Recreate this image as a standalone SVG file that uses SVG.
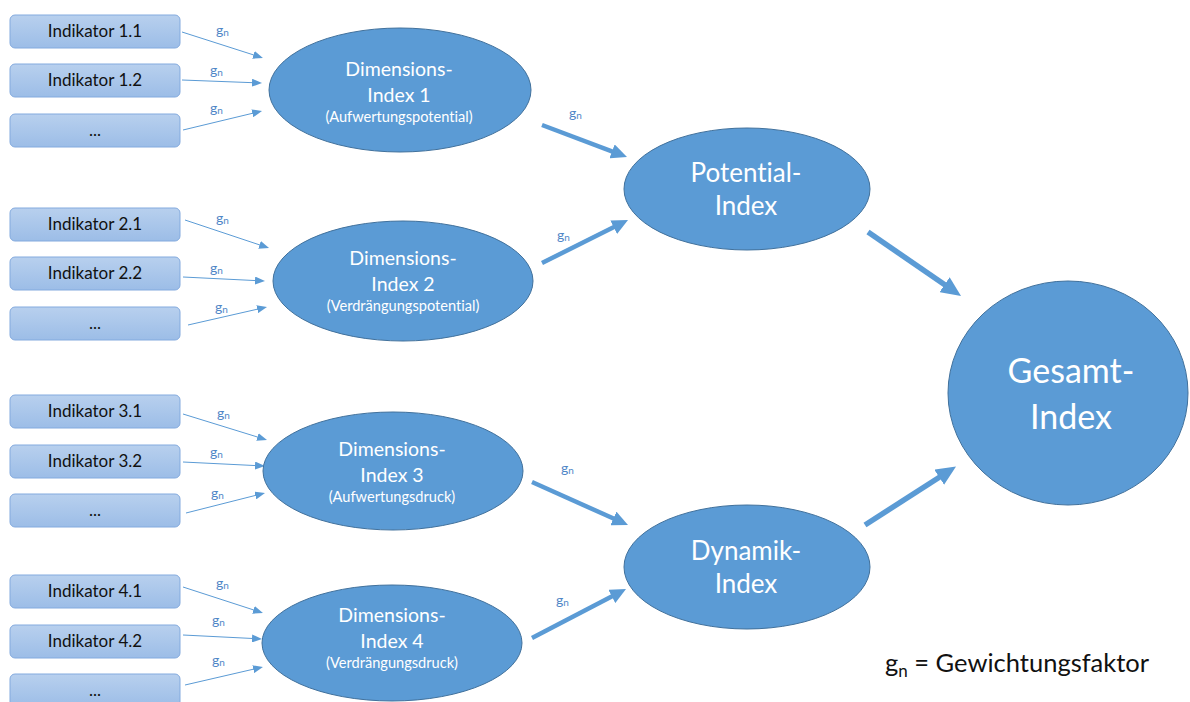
<svg xmlns="http://www.w3.org/2000/svg" width="1190" height="702" viewBox="0 0 1190 702">
<defs>
<linearGradient id="boxg" x1="0" y1="0" x2="0" y2="1">
<stop offset="0" stop-color="#b8d0ee"/>
<stop offset="1" stop-color="#9cbde7"/>
</linearGradient>
<marker id="thin" markerUnits="userSpaceOnUse" markerWidth="10" markerHeight="8" refX="1" refY="4" orient="auto">
<path d="M0,0 L10,4 L0,8 z" fill="#5b9bd5"/>
</marker>
<marker id="thick" markerUnits="userSpaceOnUse" markerWidth="16" markerHeight="15" refX="2" refY="7.5" orient="auto">
<path d="M0,0 L16,7.5 L0,15 z" fill="#5b9bd5"/>
</marker>
<marker id="big" markerUnits="userSpaceOnUse" markerWidth="20" markerHeight="18" refX="2" refY="9" orient="auto">
<path d="M0,0 L20,9 L0,18 z" fill="#5b9bd5"/>
</marker>
</defs>
<style>
text{font-family:Lato,"Liberation Sans",sans-serif;font-variant-ligatures:none}
.box{fill:url(#boxg);stroke:#83aade;stroke-width:1}
.bt{font-size:17px;fill:#111;text-anchor:middle}
.ell{fill:#5b9bd5;stroke:#41719c;stroke-width:1}
.et{font-size:19.5px;fill:#fff;text-anchor:middle}
.es{font-size:14.6px;fill:#fff;text-anchor:middle}
.pt{font-size:26px;fill:#fff;text-anchor:middle}
.gt{font-size:34px;fill:#fff;text-anchor:middle}
.tl{stroke:#5b9bd5;stroke-width:1;fill:none;marker-end:url(#thin)}
.tk{stroke:#5b9bd5;stroke-width:4.5;fill:none;marker-end:url(#thick)}
.tb{stroke:#5b9bd5;stroke-width:5.5;fill:none;marker-end:url(#big)}
.gl{font-size:14px;fill:#4f87c7}
.gl tspan{font-size:10px}
.lg{font-size:25.5px;fill:#111}
</style>
<rect width="1190" height="702" fill="#fff"/>

<g id="connectors">
<line class="tl" x1="182" y1="32" x2="254.4" y2="55.2"/>
<line class="tl" x1="182" y1="80" x2="253" y2="82.7"/>
<line class="tl" x1="183" y1="130" x2="253.3" y2="113.1"/>
<line class="tl" x1="185" y1="220" x2="260.5" y2="245.2"/>
<line class="tl" x1="183" y1="277" x2="256" y2="280.6"/>
<line class="tl" x1="188" y1="325" x2="258.2" y2="309"/>
<line class="tl" x1="183" y1="414" x2="258.4" y2="437.3"/>
<line class="tl" x1="183" y1="462" x2="256" y2="465.6"/>
<line class="tl" x1="186" y1="513" x2="256.3" y2="495.2"/>
<line class="tl" x1="183" y1="587" x2="254.4" y2="610.2"/>
<line class="tl" x1="183" y1="635" x2="253" y2="638.5"/>
<line class="tl" x1="185" y1="685" x2="254.2" y2="669"/>
<line class="tk" x1="542" y1="125" x2="613.9" y2="152.1"/>
<line class="tk" x1="542" y1="263" x2="615.5" y2="226.3"/>
<line class="tk" x1="532" y1="482" x2="615.2" y2="519.3"/>
<line class="tk" x1="532" y1="638" x2="613.6" y2="595.5"/>
<line class="tb" x1="868" y1="232" x2="946.2" y2="285.8"/>
<line class="tb" x1="865" y1="525" x2="940.9" y2="476.2"/>
<text class="gl" x="216" y="35">g<tspan dy="1">n</tspan></text>
<text class="gl" x="210" y="75">g<tspan dy="1">n</tspan></text>
<text class="gl" x="210" y="113">g<tspan dy="1">n</tspan></text>
<text class="gl" x="216" y="223">g<tspan dy="1">n</tspan></text>
<text class="gl" x="210" y="273">g<tspan dy="1">n</tspan></text>
<text class="gl" x="215" y="312">g<tspan dy="1">n</tspan></text>
<text class="gl" x="217" y="418">g<tspan dy="1">n</tspan></text>
<text class="gl" x="210" y="457">g<tspan dy="1">n</tspan></text>
<text class="gl" x="211" y="498">g<tspan dy="1">n</tspan></text>
<text class="gl" x="216" y="588">g<tspan dy="1">n</tspan></text>
<text class="gl" x="212" y="625">g<tspan dy="1">n</tspan></text>
<text class="gl" x="212" y="665">g<tspan dy="1">n</tspan></text>
<text class="gl" x="569" y="118">g<tspan dy="1">n</tspan></text>
<text class="gl" x="557" y="240">g<tspan dy="1">n</tspan></text>
<text class="gl" x="561" y="473">g<tspan dy="1">n</tspan></text>
<text class="gl" x="556" y="605">g<tspan dy="1">n</tspan></text>
</g>

<g id="ind11"><rect class="box" x="10" y="15" width="170" height="33" rx="5"/><text class="bt" x="95" y="37">Indikator 1.1</text></g>
<g id="ind12"><rect class="box" x="10" y="64" width="170" height="33" rx="5"/><text class="bt" x="95" y="86">Indikator 1.2</text></g>
<g id="ind13"><rect class="box" x="10" y="114" width="170" height="33" rx="5"/><text class="bt" x="95" y="136">...</text></g>
<g id="ind21"><rect class="box" x="10" y="208" width="170" height="33" rx="5"/><text class="bt" x="95" y="230">Indikator 2.1</text></g>
<g id="ind22"><rect class="box" x="10" y="257" width="170" height="33" rx="5"/><text class="bt" x="95" y="279">Indikator 2.2</text></g>
<g id="ind23"><rect class="box" x="10" y="307" width="170" height="33" rx="5"/><text class="bt" x="95" y="329">...</text></g>
<g id="ind31"><rect class="box" x="10" y="395" width="170" height="33" rx="5"/><text class="bt" x="95" y="417">Indikator 3.1</text></g>
<g id="ind32"><rect class="box" x="10" y="445" width="170" height="33" rx="5"/><text class="bt" x="95" y="467">Indikator 3.2</text></g>
<g id="ind33"><rect class="box" x="10" y="494" width="170" height="33" rx="5"/><text class="bt" x="95" y="516">...</text></g>
<g id="ind41"><rect class="box" x="10" y="575" width="170" height="33" rx="5"/><text class="bt" x="95" y="597">Indikator 4.1</text></g>
<g id="ind42"><rect class="box" x="10" y="625" width="170" height="33" rx="5"/><text class="bt" x="95" y="647">Indikator 4.2</text></g>
<g id="ind43"><rect class="box" x="10" y="674" width="170" height="33" rx="5"/><text class="bt" x="95" y="696">...</text></g>

<g id="dim1"><ellipse class="ell" cx="400" cy="90" rx="131" ry="62"/><text class="et" x="399" y="76">Dimensions-</text><text class="et" x="399" y="102">Index 1</text><text class="es" x="399" y="122">(Aufwertungspotential)</text></g>
<g id="dim2"><ellipse class="ell" cx="403" cy="281" rx="130" ry="60"/><text class="et" x="403" y="265">Dimensions-</text><text class="et" x="403" y="291">Index 2</text><text class="es" x="403" y="311">(Verdrängungspotential)</text></g>
<g id="dim3"><ellipse class="ell" cx="393" cy="471" rx="130" ry="59"/><text class="et" x="392" y="456">Dimensions-</text><text class="et" x="392" y="482">Index 3</text><text class="es" x="392" y="502">(Aufwertungsdruck)</text></g>
<g id="dim4"><ellipse class="ell" cx="392" cy="643" rx="130" ry="58"/><text class="et" x="392" y="622">Dimensions-</text><text class="et" x="392" y="648">Index 4</text><text class="es" x="392" y="668">(Verdrängungsdruck)</text></g>

<g id="potential"><ellipse class="ell" cx="747" cy="189" rx="123" ry="61"/><text class="pt" x="746" y="182">Potential-</text><text class="pt" x="746" y="215">Index</text></g>
<g id="dynamik"><ellipse class="ell" cx="747" cy="567" rx="123" ry="62"/><text class="pt" x="746" y="560">Dynamik-</text><text class="pt" x="746" y="593">Index</text></g>
<g id="gesamt"><ellipse class="ell" cx="1068" cy="393" rx="120" ry="112"/><text class="gt" x="1071" y="383">Gesamt-</text><text class="gt" x="1071" y="429">Index</text></g>

<g id="legend"><text class="lg" x="885" y="672">g<tspan font-size="17" dy="5">n</tspan><tspan dy="-5"> = Gewichtungsfaktor</tspan></text></g>
</svg>
